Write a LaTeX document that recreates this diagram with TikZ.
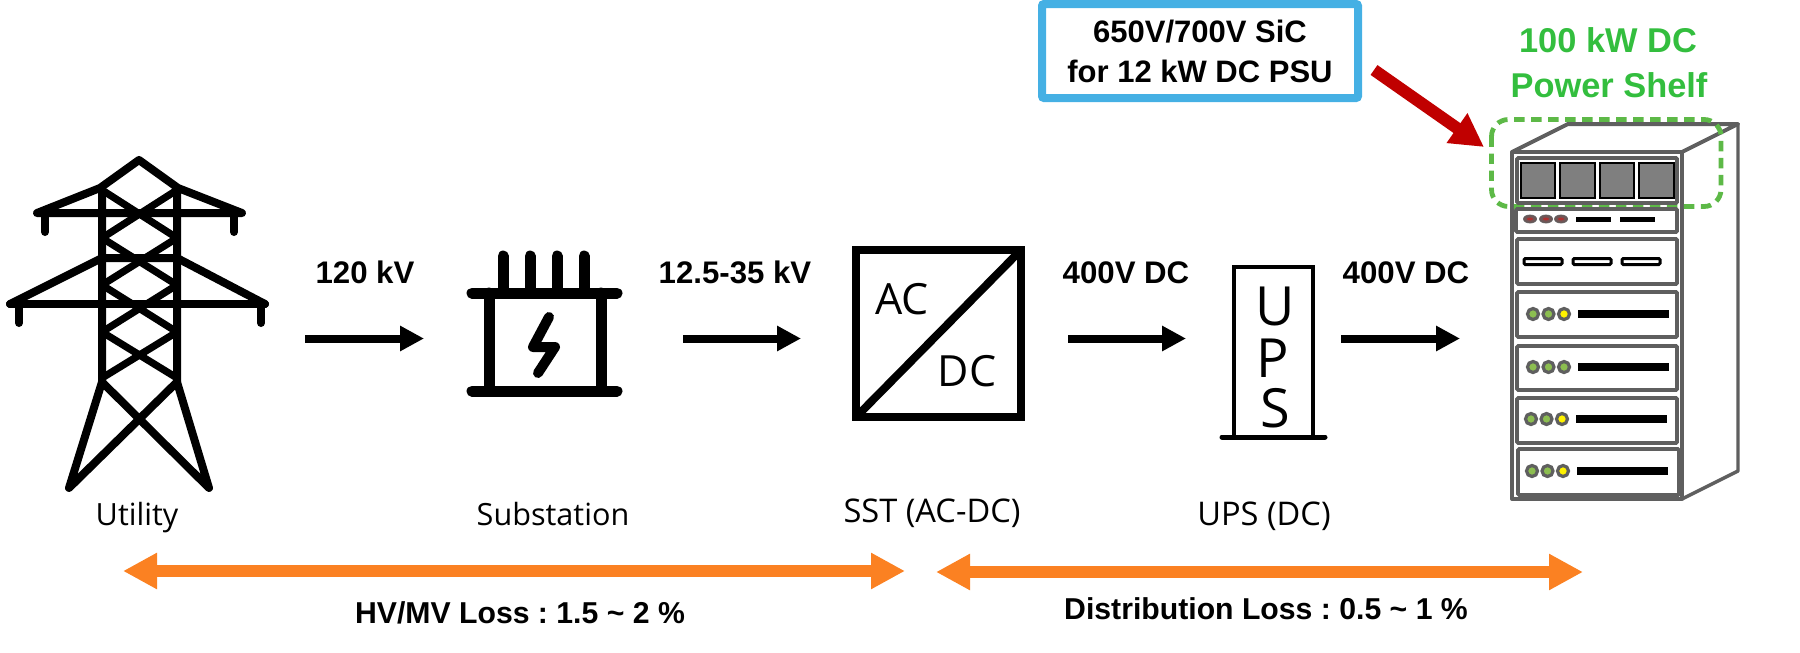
\documentclass[tikz,border=0pt]{standalone}
\usepackage{fontspec}
\setmainfont{Liberation Sans}
\newfontfamily\opensans{Open Sans}
\usetikzlibrary{arrows.meta}
\definecolor{rackgray}{HTML}{5F5F5F}
\definecolor{skyblue}{HTML}{45B0E4}
\definecolor{shelfgreen}{HTML}{33BE3E}
\definecolor{dashgreen}{HTML}{5DB947}
\definecolor{lossorange}{HTML}{FB8122}
\definecolor{darkred}{HTML}{C00000}
\definecolor{ledgreen}{HTML}{8CBE50}
\definecolor{ledyellow}{HTML}{FFF200}
\definecolor{psugray}{HTML}{7F7F7F}
\frenchspacing
\tikzset{
  x=0.5pt,y=-0.5pt,
  every node/.style={inner sep=0pt,outer sep=0pt},
  boldlabel/.style={anchor=base,font=\bfseries\fontsize{15.6}{18}\selectfont},
  looselabel/.style={anchor=base,font=\bfseries\fontsize{15.1}{18}\selectfont},
  caption/.style={anchor=base,font=\opensans\fontsize{15.3}{18}\selectfont},
  widecaption/.style={anchor=base,font=\opensans\fontsize{16.3}{18}\selectfont},
  symboltext/.style={anchor=center,font=\opensans\fontsize{21.5}{24}\selectfont},
  upstext/.style={anchor=center,font=\opensans\fontsize{27}{29}\selectfont},
  shelftext/.style={anchor=base,text=shelfgreen,font=\bfseries\fontsize{17.2}{20}\selectfont},
  towerline/.style={line width=4pt,line cap=round,line join=round},
  braceline/.style={line width=3.6pt,line cap=round},
  subline/.style={line width=5.5pt,line cap=round,line join=round},
  flow/.style={line width=4pt,-{Triangle[length=12pt,width=12pt]}},
  lossspan/.style={draw=lossorange,line width=6pt,{Triangle[length=17pt,width=17pt]}-{Triangle[length=17pt,width=17pt]}},
  rackline/.style={draw=rackgray,line width=2pt,line join=round},
  module/.style={draw=rackgray,fill=white,line width=1.9pt,rounded corners=0.6pt},
  led/.style={draw=rackgray,line width=1.6pt},
  psu/.style={draw=black,fill=psugray,line width=1.1pt},
}
\begin{document}
\begin{tikzpicture}
\useasboundingbox (0,0) rectangle (1800,653);
% --- utility tower
\draw[towerline] (37,213) -- (100,188) -- (139,160) -- (178,188) -- (242,213) -- cycle;
\draw[towerline] (45,213) -- (45,232) (234,213) -- (234,232);
\draw[towerline] (102,188) -- (102,382) -- (69,488) -- (177,382) -- (177,188);
\draw[towerline] (177,382) -- (209,488) -- (102,382);
\draw[towerline] (10,304) -- (265,304);
\draw[towerline] (10,304) -- (102,258) -- (177,258) -- (265,304);
\draw[towerline] (19,304) -- (19,323) (261,304) -- (261,323);
\draw[braceline] (102,190) -- (177,238) (177,190) -- (102,238);
\draw[braceline] (102,238) -- (177,285) (177,238) -- (102,285);
\draw[braceline] (102,285) -- (177,332) (177,285) -- (102,332);
\draw[braceline] (102,332) -- (177,378) (177,332) -- (102,378);
\node[caption] (utility) at (137,525) {Utility};
% --- substation
\draw[subline] (472,293) -- (617,293);
\draw[subline] (472,391) -- (617,391);
\draw[subline] (489,293) -- (489,391) (601,293) -- (601,391);
\draw[subline] (503,256) -- (503,293) (530,256) -- (530,293) (557,256) -- (557,293) (584,256) -- (584,293);
\draw[line width=5pt,line cap=round,line join=round] (549,317) -- (533,347) -- (555,347) -- (538,373);
\node[caption] (substation) at (553,525) {Substation};
% --- AC/DC converter
\draw[line width=4pt,miter limit=2] (856,250) rectangle (1021,417);
\draw[line width=4pt] (859,414) -- (1018,253);
\node[symboltext] (ac) at (902,299) {AC};
\node[symboltext] (dc) at (967,371) {DC};
\node[widecaption] (sst) at (932,522) {SST (AC-DC)};
% --- UPS
\draw[line width=2pt] (1234,437) -- (1234,267) -- (1313,267) -- (1313,437);
\draw[line width=2.5pt,line cap=round] (1222,437) -- (1325,437);
\node[upstext] (upsu) at (1275,306) {U};
\node[upstext] (upsp) at (1273,358) {P};
\node[upstext] (upss) at (1275,408) {S};
\node[widecaption] (upscap) at (1264,525) {UPS (DC)};
% --- flow arrows
\coordinate (f1a) at (305,338.5); \coordinate (f1b) at (424,338.5);
\coordinate (f2a) at (683,338.5); \coordinate (f2b) at (801,338.5);
\coordinate (f3a) at (1068,338.5); \coordinate (f3b) at (1186,338.5);
\coordinate (f4a) at (1341,338.5); \coordinate (f4b) at (1460,338.5);
\draw[flow] (f1a) -- (f1b);
\draw[flow] (f2a) -- (f2b);
\draw[flow] (f3a) -- (f3b);
\draw[flow] (f4a) -- (f4b);
\node[boldlabel] (v1) at (365,283) {120 kV};
\node[boldlabel] (v2) at (735,283) {12.5-35 kV};
\node[boldlabel] (v3) at (1126,283) {400V DC};
\node[boldlabel] (v4) at (1406,283) {400V DC};
% --- rack outline
\draw[rackline] (1512,152) rectangle (1682,499);
\draw[rackline] (1512,152) -- (1568,124) -- (1738,124) -- (1682,152);
\draw[rackline,line width=1.7pt] (1738,124) -- (1738,471) -- (1682,499);
% --- power-shelf marker
\draw[dashgreen,line width=2.4pt,rounded corners=8.5pt,dash pattern=on 5.2pt off 3.3pt] (1491.5,119.5) rectangle (1721,206.5);
% --- rack modules
\draw[module] (1517,158) rectangle (1677,203);
\foreach \a/\b in {1521/1555,1560/1595,1600/1634,1639/1674}
  \draw[psu] (\a,163) rectangle (\b,198);
\draw[module] (1516,209) rectangle (1677,232);
\foreach \a in {1530,1546,1561}
  \draw[fill=rackgray!90!red,draw=rackgray] (\a,219) ellipse [x radius=6.5,y radius=4];
\foreach \a in {1530,1546,1561}
  \fill[red!50!rackgray] (\a,219) ellipse [x radius=3,y radius=1.5];
\fill (1576,216.5) rectangle (1611,221.5);
\fill (1620,216.5) rectangle (1655,221.5);
\draw[module] (1517,239) rectangle (1677,284);
\foreach \a in {1524,1573,1622}
  \draw[line width=1.5pt,fill=white,rounded corners=0.6pt] (\a,258.5) rectangle (\a+38,264.5);
\draw[module] (1517,292) rectangle (1677,337);
\draw[module] (1517,346) rectangle (1677,390);
\draw[module] (1517,398) rectangle (1677,443);
\draw[module] (1518,449) rectangle (1679,495);
\foreach \x/\y/\c/\e in {1533/314/ledgreen/ledyellow,1533/367/ledgreen/ledgreen,1531/419/ledgreen/ledyellow,1532/471/ledgreen/ledyellow}{
  \draw[led,fill=\c] (\x,\y) circle [radius=5.5];
  \draw[led,fill=\c] (\x+15.5,\y) circle [radius=5.5];
  \draw[led,fill=\e] (\x+31,\y) circle [radius=5.5];
  \fill (\x+45,\y-4) rectangle (\x+136,\y+4);
}
% --- callout
\node[draw=skyblue,line width=4pt,rounded corners=1pt,minimum width=158pt,minimum height=47pt,align=center,
  font=\bfseries\fontsize{15.5}{20}\selectfont] (callout) at (1200,51) {650V/700V SiC\\for 12 kW DC PSU};
\coordinate (redtail) at (1374,70);
\coordinate (redtip) at (1484,147);
\draw[draw=darkred,line width=6pt,-{Triangle[length=16.5pt,width=17pt]}] (redtail) -- (redtip);
\node[shelftext] (shelf1) at (1608,53) {100 kW DC};
\node[shelftext] (shelf2) at (1609,97) {Power Shelf};
% --- loss spans
\coordinate (l1a) at (123,571); \coordinate (l1b) at (905,571);
\coordinate (l2a) at (936,572); \coordinate (l2b) at (1583,572);
\draw[lossspan] (l1a) -- (l1b);
\draw[lossspan] (l2a) -- (l2b);
\node[looselabel] (loss1) at (520,623) {HV/MV Loss : 1.5 \char`\~{} 2 \%};
\node[looselabel] (loss2) at (1266,619) {Distribution Loss : 0.5 \char`\~{} 1 \%};
\end{tikzpicture}
\end{document}
